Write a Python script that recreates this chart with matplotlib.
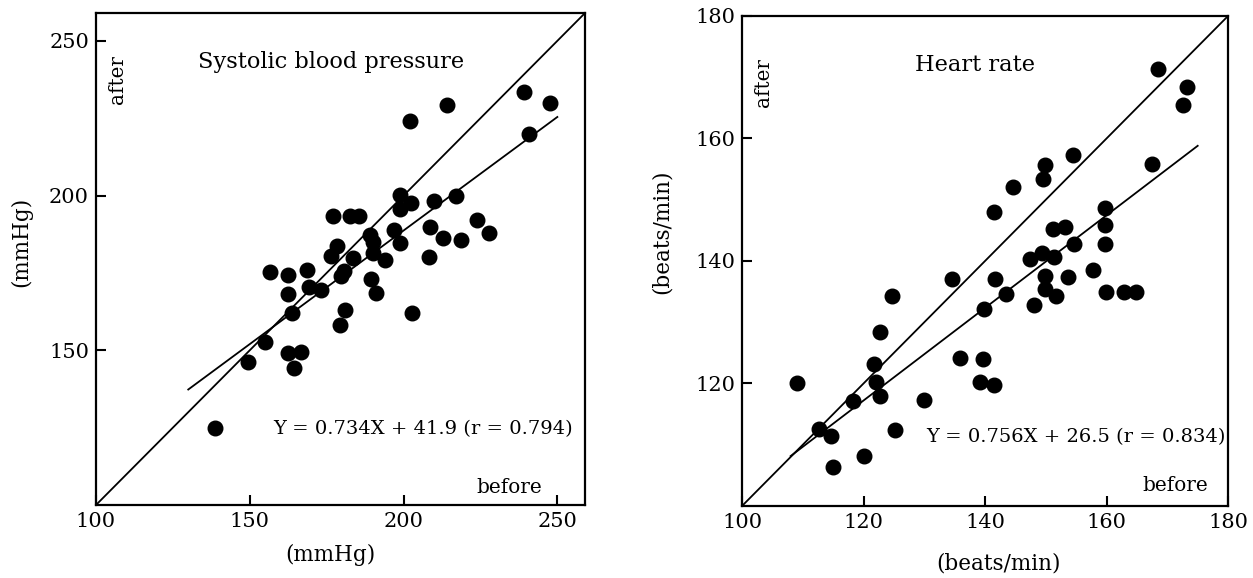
import matplotlib
matplotlib.use("Agg")
import matplotlib.pyplot as plt
import numpy as np

plt.rcParams['font.family'] = ['DejaVu Serif']

# systolic blood pressure (mmHg), before / after
sbp_before = [239.2, 247.7, 214.2, 202.0, 240.9, 199.0, 202.5, 198.8, 209.9, 217.2,
              177.1, 182.5, 185.5, 189.0, 190.1, 196.8, 199.0, 208.6, 223.8, 227.9,
              212.8, 218.6, 178.2, 176.4, 183.6, 190.1, 194.0, 208.3, 156.5, 162.5,
              168.6, 180.6, 179.7, 189.3, 191.2, 162.5, 169.2, 173.0, 163.7, 180.8,
              179.3, 202.9, 155.0, 149.5, 162.5, 166.7, 164.3, 138.8]
sbp_after = [233.6, 229.8, 229.4, 224.0, 219.8, 200.3, 197.6, 195.5, 198.2, 200.0,
             193.3, 193.3, 193.3, 187.4, 184.9, 189.0, 184.7, 190.0, 192.2, 187.9,
             186.3, 185.8, 183.6, 180.4, 179.8, 181.5, 179.3, 180.0, 175.4, 174.3,
             176.0, 175.5, 174.1, 173.0, 168.5, 168.2, 170.6, 169.6, 162.0, 162.9,
             158.3, 162.2, 152.8, 146.3, 149.1, 149.6, 144.2, 124.8]

# heart rate (beats/min), before / after
hr_before = [168.4, 173.3, 172.6, 154.5, 167.5, 149.8, 149.6, 144.6, 141.4, 159.7,
             159.8, 159.7, 151.2, 153.2, 154.7, 149.3, 147.4, 151.4, 134.5, 141.7,
             149.8, 153.7, 157.8, 149.8, 159.9, 162.8, 164.8, 124.7, 143.4, 151.7,
             148.0, 139.8, 122.7, 121.7, 122.0, 122.7, 118.2, 109.1, 135.8, 139.6,
             139.2, 141.4, 129.9, 112.7, 114.6, 125.1, 120.0, 115.0]
hr_after = [171.4, 168.4, 165.5, 157.3, 155.8, 155.7, 153.3, 152.1, 148.0, 148.6,
            145.8, 142.8, 145.2, 145.5, 142.8, 141.3, 140.4, 140.6, 137.1, 137.0,
            137.6, 137.4, 138.5, 135.5, 134.9, 135.0, 135.0, 134.3, 134.6, 134.3,
            132.8, 132.2, 128.4, 123.2, 120.3, 118.0, 117.1, 120.1, 124.2, 124.0,
            120.2, 119.7, 117.3, 112.5, 111.5, 112.4, 108.1, 106.3]

# regression lines: slope, intercept, x range
sbp_fit = (0.734, 41.9, 130, 250)
hr_fit = (0.756, 26.5, 108, 175)

fig = plt.figure(figsize=(12.53, 5.78), dpi=100)
ax1 = fig.add_axes([0.0766, 0.1263, 0.3903, 0.8512])
ax2 = fig.add_axes([0.5922, 0.1246, 0.3879, 0.8478])


def panel(ax, xs, ys, fit, lim, xticks, yticks, title, unit):
    a, b, x0, x1 = fit
    ax.plot(lim, lim, color='black', lw=1.3, zorder=2)
    fx = np.array([x0, x1])
    ax.plot(fx, a * fx + b, color='black', lw=1.3, zorder=2)
    ax.scatter(xs, ys, s=110, color='black', zorder=3)
    ax.set_xlim(lim)
    ax.set_ylim(lim)
    ax.set_xticks(xticks)
    ax.set_yticks(yticks)
    ax.tick_params(direction='in', length=7, width=1.5, labelsize=15, pad=5)
    for sp in ax.spines.values():
        sp.set_linewidth(1.6)
    ax.set_xlabel(unit, fontsize=15.5)
    ax.set_ylabel(unit, fontsize=15.5)
    ax.text(0.045, 0.865, 'after', rotation=90, fontsize=14.3,
            transform=ax.transAxes, ha='center', va='center')
    ax.text(0.48, 0.9, title, fontsize=16.2,
            transform=ax.transAxes, ha='center', va='center')


panel(ax1, sbp_before, sbp_after, sbp_fit, (100, 259), [100, 150, 200, 250],
      [150, 200, 250], 'Systolic blood pressure', '(mmHg)')
ax1.text(0.975, 0.155, 'Y = 0.734X + 41.9 (r = 0.794)', fontsize=14,
         transform=ax1.transAxes, ha='right', va='center')
ax1.text(0.912, 0.017, 'before', fontsize=14.4,
         transform=ax1.transAxes, ha='right', va='bottom')
ax1.xaxis.set_label_coords(0.48, -0.08)
ax1.yaxis.set_label_coords(-0.131, 0.535)

panel(ax2, hr_before, hr_after, hr_fit, (100, 180), [100, 120, 140, 160, 180],
      [120, 140, 160, 180], 'Heart rate', '(beats/min)')
ax2.text(0.995, 0.14, 'Y = 0.756X + 26.5 (r = 0.834)', fontsize=14,
         transform=ax2.transAxes, ha='right', va='center')
ax2.text(0.958, 0.022, 'before', fontsize=14.4,
         transform=ax2.transAxes, ha='right', va='bottom')
ax2.xaxis.set_label_coords(0.527, -0.094)
ax2.yaxis.set_label_coords(-0.142, 0.559)

fig.savefig('out.png', dpi=100)
